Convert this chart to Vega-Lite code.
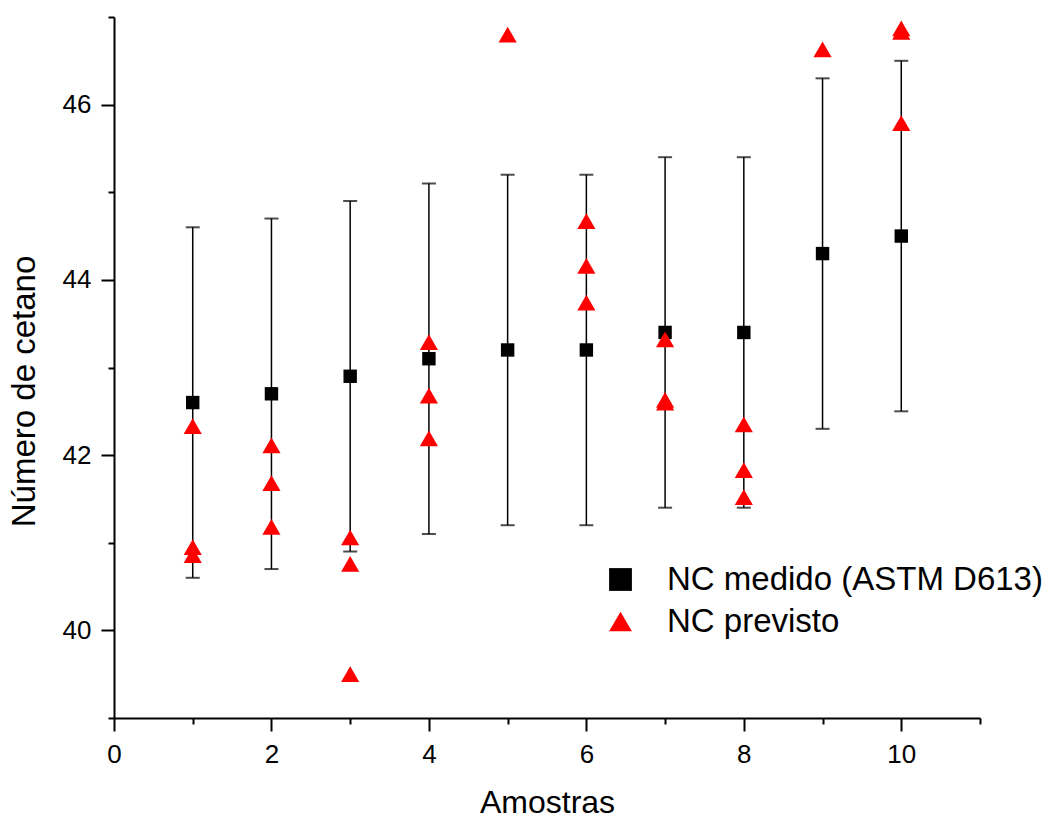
{
  "$schema": "https://vega.github.io/schema/vega-lite/v6.json",
  "width": 866,
  "height": 701,
  "autosize": "none",
  "padding": {"left": 114, "top": 17, "right": 69, "bottom": 100},
  "background": "white",
  "config": {"view": {"stroke": null}, "font": "Liberation Sans", "axis": {"labelFontSize": 26, "labelFont": "Liberation Sans"}},
  "datasets": {
    "medido": [
      {"amostra": 1, "nc": 42.6, "lo": 40.6, "hi": 44.6, "serie": "NC medido (ASTM D613)"},
      {"amostra": 2, "nc": 42.7, "lo": 40.7, "hi": 44.7, "serie": "NC medido (ASTM D613)"},
      {"amostra": 3, "nc": 42.9, "lo": 40.9, "hi": 44.9, "serie": "NC medido (ASTM D613)"},
      {"amostra": 4, "nc": 43.1, "lo": 41.1, "hi": 45.1, "serie": "NC medido (ASTM D613)"},
      {"amostra": 5, "nc": 43.2, "lo": 41.2, "hi": 45.2, "serie": "NC medido (ASTM D613)"},
      {"amostra": 6, "nc": 43.2, "lo": 41.2, "hi": 45.2, "serie": "NC medido (ASTM D613)"},
      {"amostra": 7, "nc": 43.4, "lo": 41.4, "hi": 45.4, "serie": "NC medido (ASTM D613)"},
      {"amostra": 8, "nc": 43.4, "lo": 41.4, "hi": 45.4, "serie": "NC medido (ASTM D613)"},
      {"amostra": 9, "nc": 44.3, "lo": 42.3, "hi": 46.3, "serie": "NC medido (ASTM D613)"},
      {"amostra": 10, "nc": 44.5, "lo": 42.5, "hi": 46.5, "serie": "NC medido (ASTM D613)"}
    ],
    "previsto": [
      {"amostra": 1, "nc": 42.33, "serie": "NC previsto"},
      {"amostra": 1, "nc": 40.95, "serie": "NC previsto"},
      {"amostra": 1, "nc": 40.86, "serie": "NC previsto"},
      {"amostra": 2, "nc": 42.11, "serie": "NC previsto"},
      {"amostra": 2, "nc": 41.68, "serie": "NC previsto"},
      {"amostra": 2, "nc": 41.18, "serie": "NC previsto"},
      {"amostra": 3, "nc": 41.06, "serie": "NC previsto"},
      {"amostra": 3, "nc": 40.76, "serie": "NC previsto"},
      {"amostra": 3, "nc": 39.5, "serie": "NC previsto"},
      {"amostra": 4, "nc": 43.29, "serie": "NC previsto"},
      {"amostra": 4, "nc": 42.68, "serie": "NC previsto"},
      {"amostra": 4, "nc": 42.19, "serie": "NC previsto"},
      {"amostra": 5, "nc": 46.8, "serie": "NC previsto"},
      {"amostra": 6, "nc": 44.67, "serie": "NC previsto"},
      {"amostra": 6, "nc": 44.16, "serie": "NC previsto"},
      {"amostra": 6, "nc": 43.74, "serie": "NC previsto"},
      {"amostra": 7, "nc": 43.32, "serie": "NC previsto"},
      {"amostra": 7, "nc": 42.63, "serie": "NC previsto"},
      {"amostra": 7, "nc": 42.6, "serie": "NC previsto"},
      {"amostra": 8, "nc": 42.35, "serie": "NC previsto"},
      {"amostra": 8, "nc": 41.83, "serie": "NC previsto"},
      {"amostra": 8, "nc": 41.52, "serie": "NC previsto"},
      {"amostra": 9, "nc": 46.63, "serie": "NC previsto"},
      {"amostra": 10, "nc": 46.87, "serie": "NC previsto"},
      {"amostra": 10, "nc": 46.83, "serie": "NC previsto"},
      {"amostra": 10, "nc": 45.79, "serie": "NC previsto"}
    ]
  },
  "encoding": {
    "x": {
      "field": "amostra",
      "type": "quantitative",
      "scale": {"domain": [0, 11], "nice": false, "zero": false},
      "axis": {
        "values": [0, 1, 2, 3, 4, 5, 6, 7, 8, 9, 10, 11],
        "labelExpr": "datum.value % 2 === 0 ? datum.label : ''",
        "tickSize": {"condition": {"test": "datum.value % 2 === 0", "value": 13}, "value": 6},
        "tickWidth": 2,
        "tickColor": "black",
        "domainColor": "black",
        "domainWidth": 2,
        "grid": false,
        "labelFont": "Liberation Sans",
        "labelFontSize": 26,
        "labelColor": "black",
        "labelPadding": 10,
        "labelFlush": false,
        "labelOverlap": false,
        "title": "Amostras",
        "titleFont": "Liberation Sans",
        "titleFontSize": 32,
        "titleFontWeight": "normal",
        "titleColor": "black",
        "titleX": 433,
        "titleY": 94,
        "titleBaseline": "alphabetic",
        "titleAlign": "center"
      }
    },
    "y": {
      "type": "quantitative",
      "scale": {"domain": [39, 47], "nice": false, "zero": false},
      "axis": {
        "values": [39, 40, 41, 42, 43, 44, 45, 46, 47],
        "labelExpr": "datum.value % 2 === 0 ? datum.label : ''",
        "tickSize": {"condition": {"test": "datum.value % 2 === 0", "value": 13}, "value": 6},
        "tickWidth": 2,
        "tickColor": "black",
        "domainColor": "black",
        "domainWidth": 2,
        "grid": false,
        "labelFont": "Liberation Sans",
        "labelFontSize": 26,
        "labelColor": "black",
        "labelPadding": 10,
        "labelFlush": false,
        "labelOverlap": false,
        "title": "Número de cetano",
        "titleFont": "Liberation Sans",
        "titleFontSize": 33,
        "titleFontWeight": "normal",
        "titleColor": "black",
        "titleX": -80,
        "titleY": 374,
        "titleBaseline": "alphabetic",
        "titleAlign": "center",
        "titleAngle": -90
      }
    },
    "shape": {
      "field": "serie",
      "type": "nominal",
      "scale": {"domain": ["NC medido (ASTM D613)", "NC previsto"], "range": ["square", "triangle-up"]},
      "legend": {
        "orient": "none",
        "legendX": 490,
        "legendY": 546,
        "title": null,
        "padding": 0,
        "labelFont": "Liberation Sans",
        "labelFontSize": 33,
        "labelColor": "black",
        "labelOffset": 30,
        "labelLimit": 0,
        "symbolSize": 520,
        "symbolStrokeWidth": 0,
        "rowPadding": 8
      }
    },
    "color": {
      "field": "serie",
      "type": "nominal",
      "scale": {"domain": ["NC medido (ASTM D613)", "NC previsto"], "range": ["black", "#ff0000"]}
    }
  },
  "layer": [
    {
      "data": {"name": "medido"},
      "mark": {"type": "rule", "color": "black", "strokeWidth": 1.5},
      "encoding": {"y": {"field": "lo", "type": "quantitative"}, "y2": {"field": "hi"}, "shape": null, "color": null}
    },
    {
      "data": {"name": "medido"},
      "mark": {"type": "tick", "orient": "horizontal", "color": "black", "size": 14, "thickness": 2},
      "encoding": {"y": {"field": "lo", "type": "quantitative"}, "shape": null, "color": null}
    },
    {
      "data": {"name": "medido"},
      "mark": {"type": "tick", "orient": "horizontal", "color": "black", "size": 14, "thickness": 2},
      "encoding": {"y": {"field": "hi", "type": "quantitative"}, "shape": null, "color": null}
    },
    {
      "data": {"name": "medido"},
      "mark": {"type": "point", "filled": true, "opacity": 1, "strokeWidth": 0, "size": 180},
      "encoding": {"y": {"field": "nc", "type": "quantitative"}}
    },
    {
      "data": {"name": "previsto"},
      "mark": {"type": "point", "filled": true, "opacity": 1, "strokeWidth": 0, "size": 330},
      "encoding": {"y": {"field": "nc", "type": "quantitative"}}
    }
  ]
}
